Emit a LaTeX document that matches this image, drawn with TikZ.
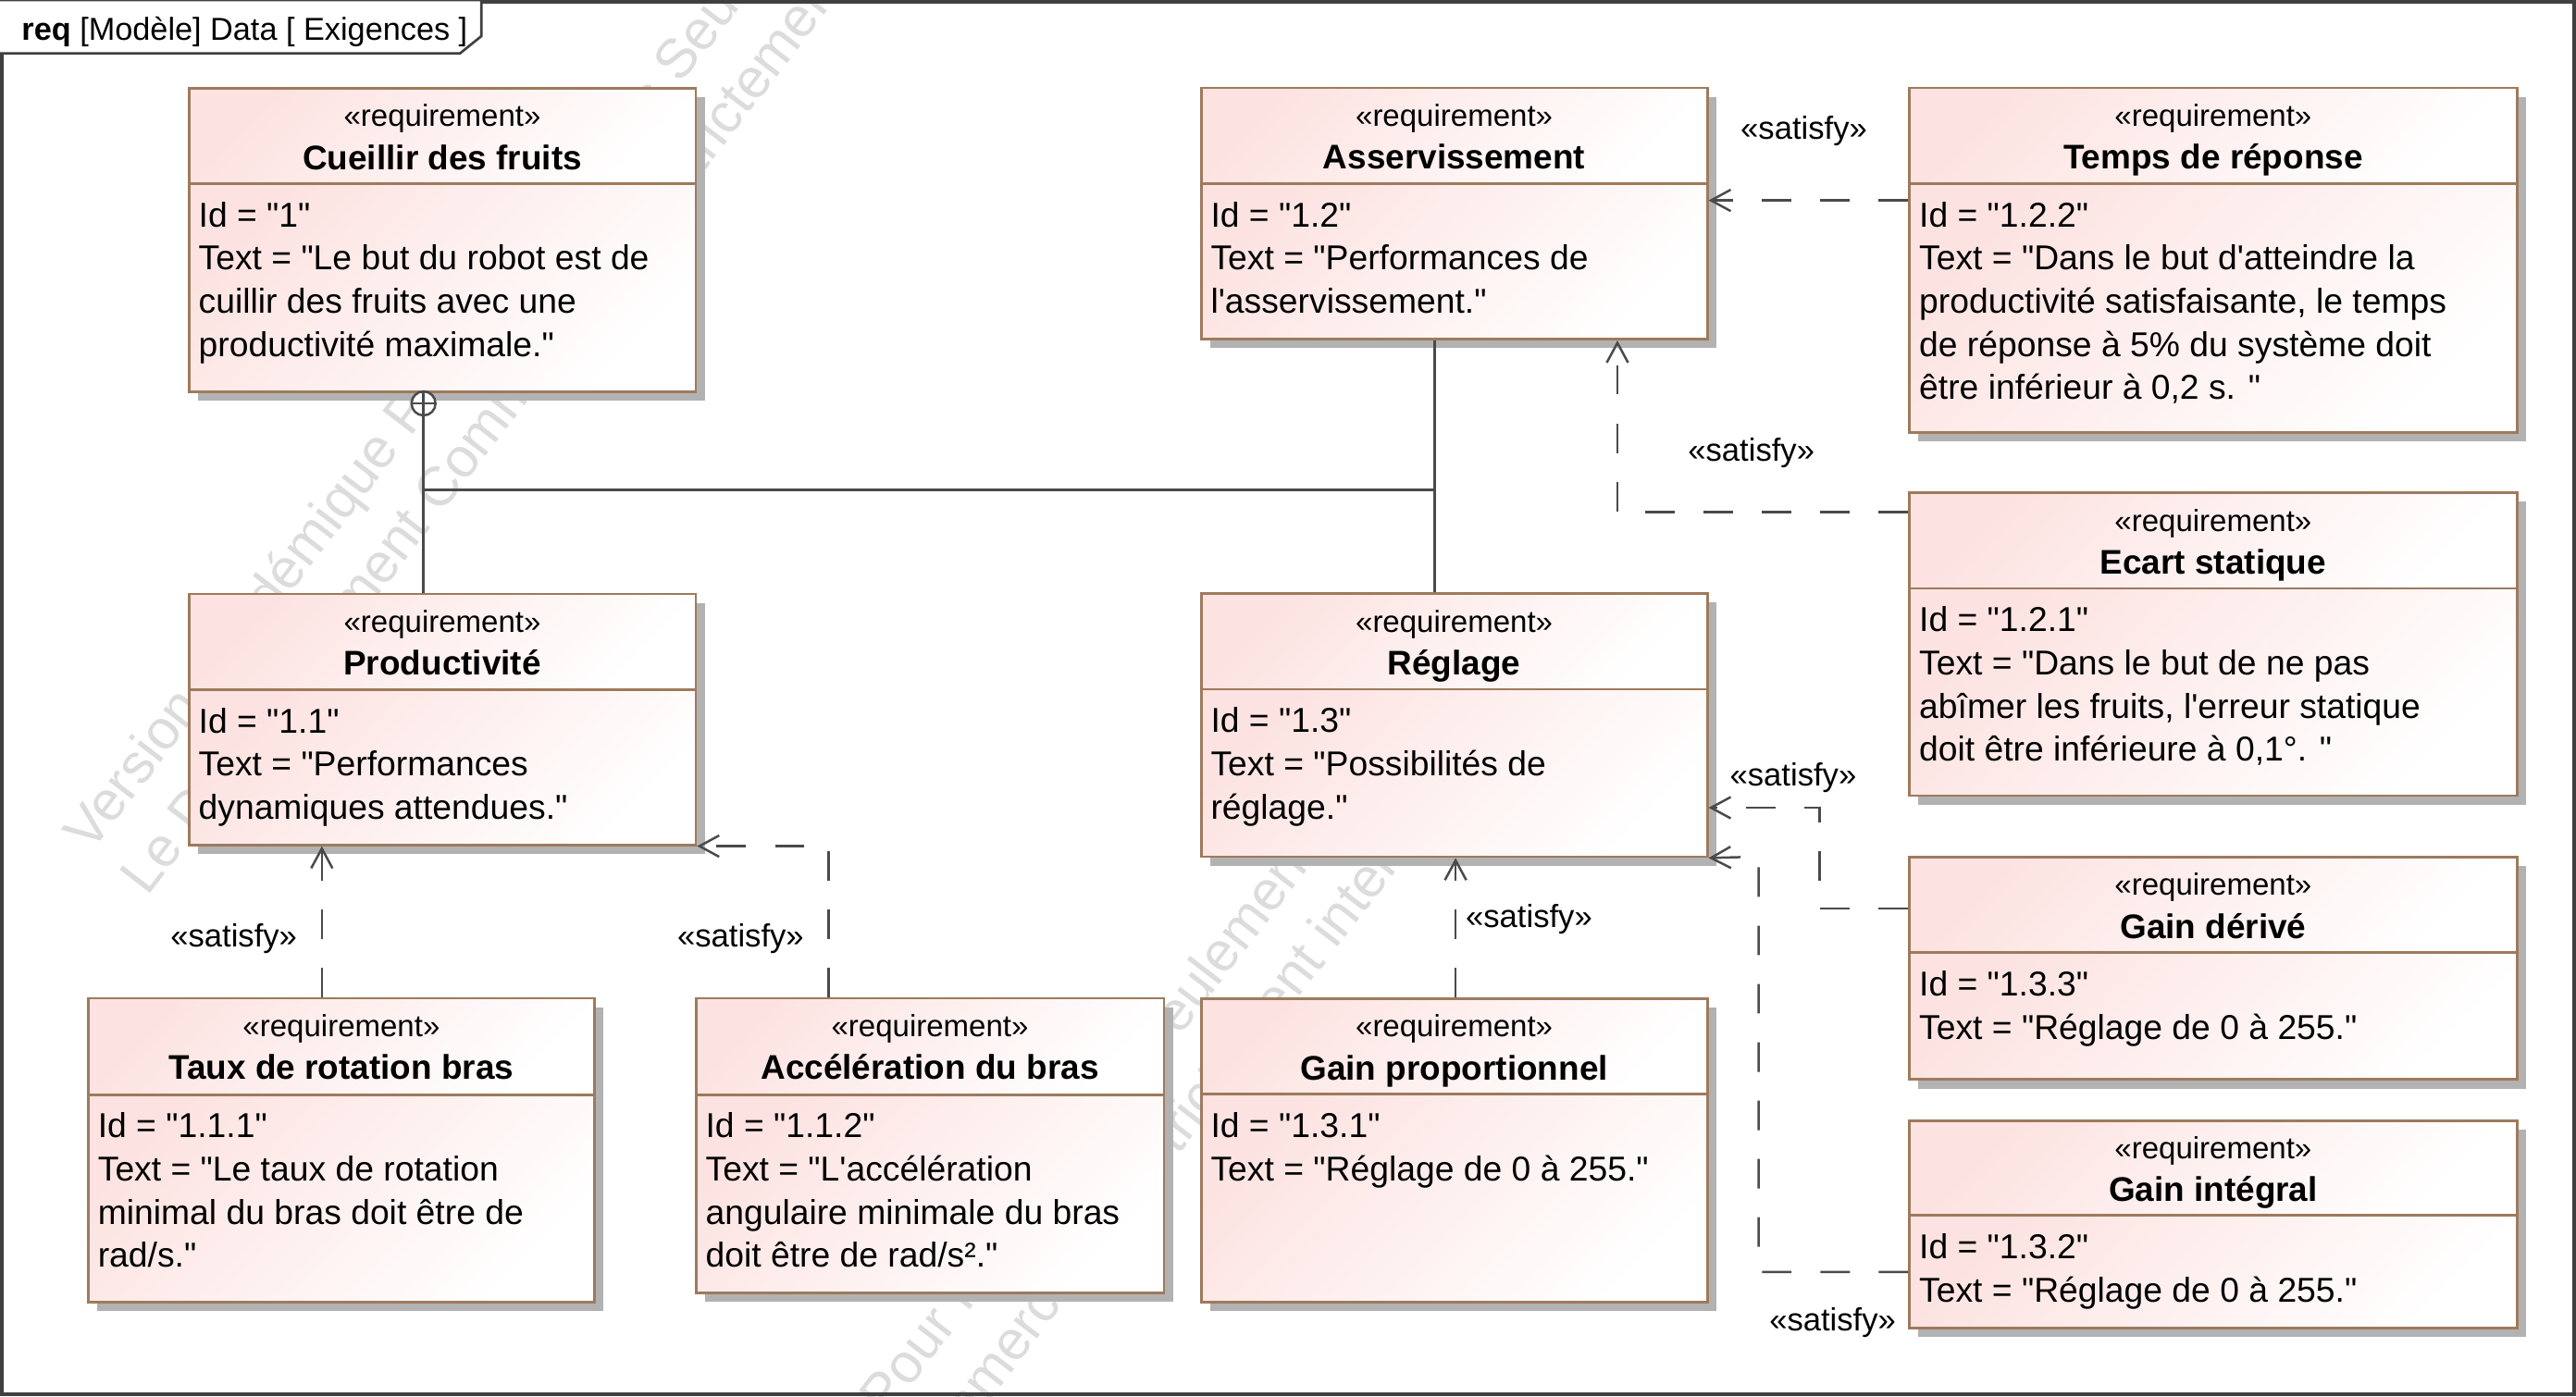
\documentclass[tikz,border=0pt]{standalone}
\usepackage{fontspec}
\setmainfont{Liberation Sans}[Ligatures=TeXOff]
\usetikzlibrary{arrows.meta,fit}

\definecolor{reqpink}{RGB}{252,227,225}
\definecolor{reqedge}{RGB}{158,122,92}
\definecolor{reqshadow}{RGB}{178,178,178}
\definecolor{linkgray}{RGB}{74,74,74}
\definecolor{framegray}{RGB}{64,64,64}
\definecolor{markgray}{RGB}{220,220,220}

\tikzset{
  compfill/.style={top color=reqpink, bottom color=white, shading angle=45},
  boxedge/.style={draw=reqedge, line width=1.6pt},
  stereo/.style={inner sep=0pt, anchor=base, font=\fontsize{18.6}{22}\selectfont},
  reqtitle/.style={inner sep=0pt, anchor=base, font=\fontsize{20.8}{24}\selectfont\bfseries},
  bodytext/.style={inner sep=0pt, anchor=base west, font=\fontsize{21}{26}\selectfont},
  satlabel/.style={inner sep=0pt, font=\fontsize{19.5}{23}\selectfont},
  satisfy/.style={draw=linkgray, line width=1.4pt, dash pattern=on 18pt off 17.5pt,
                  -{Straight Barb[length=12pt,width=13pt]}},
  ownline/.style={draw=linkgray, line width=1.4pt},
  wmark/.style={inner sep=0pt, anchor=base west, rotate=52.5, text=markgray,
                font=\fontsize{33.8}{40}\selectfont},
  headfont/.style={inner sep=0pt, anchor=base west, font=\fontsize{19.3}{23}\selectfont},
}

% requirement block: name, left, top, right, divider, bottom, title, body lines
\newcommand{\reqbox}[8]{%
  \fill[reqshadow] (#2+5.5,#3+5.5) rectangle (#4+5.5,#6+5.5);
  \shade[compfill] (#2,#3) rectangle (#4,#5);
  \shade[compfill] (#2,#5) rectangle (#4,#6);
  \coordinate (#1-nw) at (#2,#3);
  \coordinate (#1-se) at (#4,#6);
  \node[fit=(#1-nw)(#1-se), inner sep=0pt, boxedge] (#1) {};
  \draw[boxedge] (#2,#5) -- (#4,#5);
  \node[stereo] (#1-st) at ({(#2+#4)/2},#3+23.3) {«requirement»};
  \node[reqtitle] (#1-ti) at ({(#2+#4)/2},#3+49.4) {#7};
  \foreach \bodyline [count=\k] in {#8}
    \node[bodytext] (#1-l\k) at (#2+5.7,{#5+26.3*\k}) {\bodyline};
}

\begin{document}
\begin{tikzpicture}[x=1pt,y=-1pt]
\useasboundingbox (0,0) rectangle (1568,850);
\fill[white] (0,0) rectangle (1568,850);

% faint diagonal watermark
\begin{scope}
  \clip (0,0) rectangle (1568,850);
  \node[wmark] (wmA1) at (55.2,519.9) {Version Académique Pour Professeurs Seulement};
  \node[wmark] (wmA2) at (89.6,546.3) {Le Développement Commercial est strictement interdit};
  \node[wmark] (wmB1) at (345.2,1116.9) {Version Académique Pour Professeurs Seulement};
  \node[wmark] (wmB2) at (379.6,1143.3) {Le Développement Commercial est strictement interdit};
\end{scope}

% requirement blocks
\reqbox{cueillir}{115}{53.7}{423.5}{111.7}{238.4}{Cueillir des fruits}%
  {{Id = "1"},{Text = "Le but du robot est de},{cuillir des fruits avec une},{productivité maximale."}}
\reqbox{asserv}{731.1}{53.5}{1039.2}{111.7}{206.5}{Asservissement}%
  {{Id = "1.2"},{Text = "Performances de},{l'asservissement."}}
\reqbox{temps}{1162.3}{53.5}{1532}{111.7}{263.2}{Temps de réponse}%
  {{Id = "1.2.2"},{Text = "Dans le but d'atteindre la},{productivité satisfaisante, le temps},{de réponse à 5\% du système doit},{être inférieur à 0,2 s. "}}
\reqbox{ecart}{1162.3}{300}{1532}{358.2}{484.4}{Ecart statique}%
  {{Id = "1.2.1"},{Text = "Dans le but de ne pas},{abîmer les fruits, l'erreur statique},{doit être inférieure à 0,1°. "}}
\reqbox{produc}{115}{361.6}{423.5}{419.9}{514.3}{Productivité}%
  {{Id = "1.1"},{Text = "Performances},{dynamiques attendues."}}
\reqbox{reglage}{731.1}{361.4}{1039.2}{419.6}{521.5}{Réglage}%
  {{Id = "1.3"},{Text = "Possibilités de},{réglage."}}
\reqbox{derive}{1162.3}{521.8}{1532}{579.9}{657.2}{Gain dérivé}%
  {{Id = "1.3.3"},{Text = "Réglage de 0 à 255."}}
\reqbox{integral}{1162.3}{682.1}{1532}{739.9}{808.5}{Gain intégral}%
  {{Id = "1.3.2"},{Text = "Réglage de 0 à 255."}}
\reqbox{taux}{53.7}{607.7}{361.9}{666.4}{792.8}{Taux de rotation bras}%
  {{Id = "1.1.1"},{Text = "Le taux de rotation},{minimal du bras doit être de},{rad/s."}}
\reqbox{accel}{423.6}{607.7}{708.5}{666.4}{787.1}{Accélération du bras}%
  {{Id = "1.1.2"},{Text = "L'accélération},{angulaire minimale du bras},{doit être de rad/s²."}}
\reqbox{gainp}{731.1}{607.9}{1039.2}{666.1}{792.6}{Gain proportionnel}%
  {{Id = "1.3.1"},{Text = "Réglage de 0 à 255."}}

% containment tree
\node[circle, draw=linkgray, line width=1.4pt, fill=white, minimum size=14.6pt, inner sep=0pt]
  (own) at (257.8,245.6) {};
\draw[ownline] (own.north) -- (own.south) (own.west) -- (own.east);
\coordinate (fork) at (257.8,298.1);
\draw[ownline] (own.south) -- (own.south |- produc.north);
\draw[ownline] (fork) -- (fork -| 873.2,0);
\draw[ownline] (asserv.south -| 873.2,0) -- (reglage.north -| 873.2,0);

% satisfy dependencies
\draw[satisfy] (temps.west |- 0,122) -- (asserv.east |- 0,122);
\draw[satisfy] (ecart.west |- 0,311.7) -| (asserv.south -| 984.5,0);
\draw[satisfy] (taux.north -| 195.9,0) -- (produc.south -| 195.9,0);
\draw[satisfy] (accel.north -| 504.4,0) |- (produc.south east);
\draw[satisfy] (gainp.north -| 886,0) -- (reglage.south -| 886,0);
\draw[satisfy] (derive.west |- 0,553.2) -| (1107.5,491.7) -- (reglage.east |- 0,491.7);
\draw[satisfy] (integral.west |- 0,774.4) -| (1070.4,521.5) -- (reglage.south east);

\node[satlabel] (sat1) at (1098,79.5) {«satisfy»};
\node[satlabel] (sat2) at (1066,276) {«satisfy»};
\node[satlabel] (sat3) at (142.3,571.5) {«satisfy»};
\node[satlabel] (sat4) at (450.8,571.5) {«satisfy»};
\node[satlabel] (sat5) at (930.7,559.5) {«satisfy»};
\node[satlabel] (sat6) at (1091.5,473.4) {«satisfy»};
\node[satlabel] (sat7) at (1115.5,805.3) {«satisfy»};

% diagram frame and its name tab
\draw[framegray, line width=2.4pt] (1.2,1.2) rectangle (1566.8,848.8);
\draw[framegray, line width=1.5pt, fill=white] (0,0) -- (293,0) -- (293,22) -- (280,32.5) -- (0,32.5);
\node[headfont] (hdr) at (13,24.4) {\textbf{req} [Modèle] Data [ Exigences ]};
\end{tikzpicture}
\end{document}
